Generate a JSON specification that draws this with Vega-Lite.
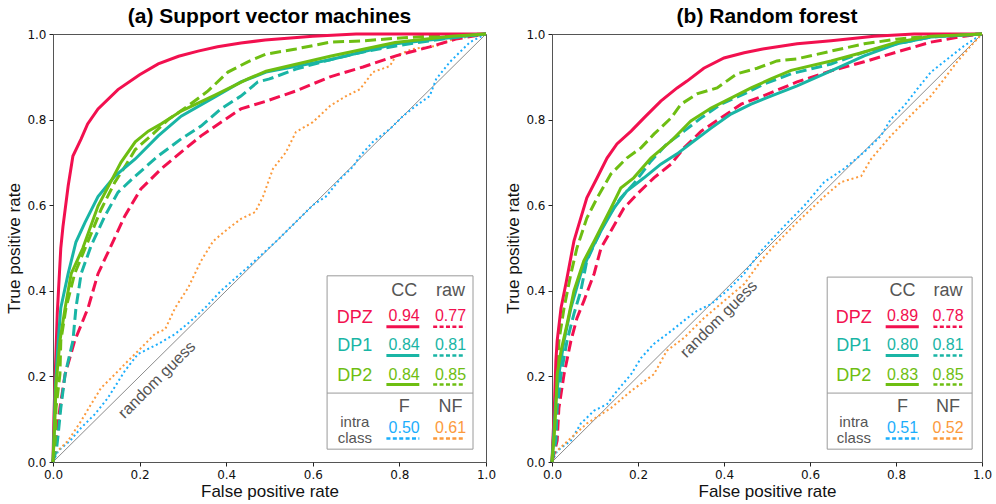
{
"$schema": "https://vega.github.io/schema/vega-lite/v6.json",
"background": "white",
"spacing": 7,
"config": {
 "font": "Liberation Sans",
 "view": {"stroke": "#555", "strokeWidth": 1},
 "axis": {"domain": false, "grid": false, "tickSize": 4, "tickColor": "#222", "labelFont": "DejaVu Sans", "labelFontSize": 12, "labelColor": "#111", "labelFlush": false, "labelOverlap": false, "labelPadding": 3, "titleFont": "Liberation Sans", "titleFontSize": 17, "titleFontWeight": "normal", "titleColor": "#111", "titlePadding": 3},
 "title": {"font": "Liberation Sans", "fontSize": 21, "fontWeight": "bold", "color": "#000", "offset": 1}
},
"datasets": {
 "curves": [
  {"p":"a","s":"DPZ","k":"CC","x":0,"y":0},{"p":"a","s":"DPZ","k":"CC","x":0.002,"y":0.1},{"p":"a","s":"DPZ","k":"CC","x":0.005,"y":0.2},{"p":"a","s":"DPZ","k":"CC","x":0.01,"y":0.35},{"p":"a","s":"DPZ","k":"CC","x":0.018,"y":0.5},{"p":"a","s":"DPZ","k":"CC","x":0.023,"y":0.55},{"p":"a","s":"DPZ","k":"CC","x":0.035,"y":0.645},{"p":"a","s":"DPZ","k":"CC","x":0.046,"y":0.715},{"p":"a","s":"DPZ","k":"CC","x":0.065,"y":0.755},{"p":"a","s":"DPZ","k":"CC","x":0.08,"y":0.79},{"p":"a","s":"DPZ","k":"CC","x":0.104,"y":0.825},{"p":"a","s":"DPZ","k":"CC","x":0.15,"y":0.87},{"p":"a","s":"DPZ","k":"CC","x":0.2,"y":0.905},{"p":"a","s":"DPZ","k":"CC","x":0.243,"y":0.93},{"p":"a","s":"DPZ","k":"CC","x":0.29,"y":0.948},{"p":"a","s":"DPZ","k":"CC","x":0.335,"y":0.96},{"p":"a","s":"DPZ","k":"CC","x":0.38,"y":0.97},{"p":"a","s":"DPZ","k":"CC","x":0.434,"y":0.979},{"p":"a","s":"DPZ","k":"CC","x":0.49,"y":0.986},{"p":"a","s":"DPZ","k":"CC","x":0.6,"y":0.995},{"p":"a","s":"DPZ","k":"CC","x":0.7,"y":1},{"p":"a","s":"DPZ","k":"CC","x":1,"y":1},
  {"p":"a","s":"DP1","k":"CC","x":0,"y":0},{"p":"a","s":"DP1","k":"CC","x":0.003,"y":0.08},{"p":"a","s":"DP1","k":"CC","x":0.005,"y":0.166},{"p":"a","s":"DP1","k":"CC","x":0.012,"y":0.283},{"p":"a","s":"DP1","k":"CC","x":0.018,"y":0.36},{"p":"a","s":"DP1","k":"CC","x":0.035,"y":0.44},{"p":"a","s":"DP1","k":"CC","x":0.053,"y":0.514},{"p":"a","s":"DP1","k":"CC","x":0.074,"y":0.56},{"p":"a","s":"DP1","k":"CC","x":0.104,"y":0.62},{"p":"a","s":"DP1","k":"CC","x":0.143,"y":0.668},{"p":"a","s":"DP1","k":"CC","x":0.19,"y":0.708},{"p":"a","s":"DP1","k":"CC","x":0.243,"y":0.762},{"p":"a","s":"DP1","k":"CC","x":0.296,"y":0.808},{"p":"a","s":"DP1","k":"CC","x":0.374,"y":0.853},{"p":"a","s":"DP1","k":"CC","x":0.434,"y":0.888},{"p":"a","s":"DP1","k":"CC","x":0.492,"y":0.911},{"p":"a","s":"DP1","k":"CC","x":0.64,"y":0.94},{"p":"a","s":"DP1","k":"CC","x":0.792,"y":0.977},{"p":"a","s":"DP1","k":"CC","x":0.947,"y":0.995},{"p":"a","s":"DP1","k":"CC","x":1,"y":1},
  {"p":"a","s":"DP2","k":"CC","x":0,"y":0},{"p":"a","s":"DP2","k":"CC","x":0.004,"y":0.09},{"p":"a","s":"DP2","k":"CC","x":0.007,"y":0.18},{"p":"a","s":"DP2","k":"CC","x":0.016,"y":0.283},{"p":"a","s":"DP2","k":"CC","x":0.028,"y":0.36},{"p":"a","s":"DP2","k":"CC","x":0.042,"y":0.44},{"p":"a","s":"DP2","k":"CC","x":0.069,"y":0.5},{"p":"a","s":"DP2","k":"CC","x":0.104,"y":0.598},{"p":"a","s":"DP2","k":"CC","x":0.157,"y":0.7},{"p":"a","s":"DP2","k":"CC","x":0.19,"y":0.748},{"p":"a","s":"DP2","k":"CC","x":0.22,"y":0.773},{"p":"a","s":"DP2","k":"CC","x":0.25,"y":0.79},{"p":"a","s":"DP2","k":"CC","x":0.296,"y":0.82},{"p":"a","s":"DP2","k":"CC","x":0.374,"y":0.857},{"p":"a","s":"DP2","k":"CC","x":0.45,"y":0.895},{"p":"a","s":"DP2","k":"CC","x":0.492,"y":0.913},{"p":"a","s":"DP2","k":"CC","x":0.64,"y":0.948},{"p":"a","s":"DP2","k":"CC","x":0.79,"y":0.98},{"p":"a","s":"DP2","k":"CC","x":0.92,"y":0.995},{"p":"a","s":"DP2","k":"CC","x":1,"y":1},
  {"p":"a","s":"DPZ","k":"raw","x":0,"y":0},{"p":"a","s":"DPZ","k":"raw","x":0.007,"y":0.05},{"p":"a","s":"DPZ","k":"raw","x":0.016,"y":0.126},{"p":"a","s":"DPZ","k":"raw","x":0.028,"y":0.205},{"p":"a","s":"DPZ","k":"raw","x":0.05,"y":0.283},{"p":"a","s":"DPZ","k":"raw","x":0.081,"y":0.36},{"p":"a","s":"DPZ","k":"raw","x":0.104,"y":0.44},{"p":"a","s":"DPZ","k":"raw","x":0.134,"y":0.505},{"p":"a","s":"DPZ","k":"raw","x":0.166,"y":0.575},{"p":"a","s":"DPZ","k":"raw","x":0.203,"y":0.638},{"p":"a","s":"DPZ","k":"raw","x":0.25,"y":0.685},{"p":"a","s":"DPZ","k":"raw","x":0.296,"y":0.724},{"p":"a","s":"DPZ","k":"raw","x":0.342,"y":0.762},{"p":"a","s":"DPZ","k":"raw","x":0.388,"y":0.794},{"p":"a","s":"DPZ","k":"raw","x":0.434,"y":0.825},{"p":"a","s":"DPZ","k":"raw","x":0.492,"y":0.843},{"p":"a","s":"DPZ","k":"raw","x":0.561,"y":0.867},{"p":"a","s":"DPZ","k":"raw","x":0.64,"y":0.9},{"p":"a","s":"DPZ","k":"raw","x":0.716,"y":0.923},{"p":"a","s":"DPZ","k":"raw","x":0.792,"y":0.949},{"p":"a","s":"DPZ","k":"raw","x":0.87,"y":0.97},{"p":"a","s":"DPZ","k":"raw","x":0.93,"y":0.988},{"p":"a","s":"DPZ","k":"raw","x":1,"y":1},
  {"p":"a","s":"DP1","k":"raw","x":0,"y":0},{"p":"a","s":"DP1","k":"raw","x":0.008,"y":0.03},{"p":"a","s":"DP1","k":"raw","x":0.012,"y":0.065},{"p":"a","s":"DP1","k":"raw","x":0.018,"y":0.126},{"p":"a","s":"DP1","k":"raw","x":0.028,"y":0.205},{"p":"a","s":"DP1","k":"raw","x":0.046,"y":0.283},{"p":"a","s":"DP1","k":"raw","x":0.053,"y":0.36},{"p":"a","s":"DP1","k":"raw","x":0.065,"y":0.44},{"p":"a","s":"DP1","k":"raw","x":0.088,"y":0.505},{"p":"a","s":"DP1","k":"raw","x":0.12,"y":0.575},{"p":"a","s":"DP1","k":"raw","x":0.15,"y":0.63},{"p":"a","s":"DP1","k":"raw","x":0.19,"y":0.668},{"p":"a","s":"DP1","k":"raw","x":0.243,"y":0.715},{"p":"a","s":"DP1","k":"raw","x":0.296,"y":0.755},{"p":"a","s":"DP1","k":"raw","x":0.342,"y":0.785},{"p":"a","s":"DP1","k":"raw","x":0.388,"y":0.825},{"p":"a","s":"DP1","k":"raw","x":0.434,"y":0.855},{"p":"a","s":"DP1","k":"raw","x":0.473,"y":0.888},{"p":"a","s":"DP1","k":"raw","x":0.5,"y":0.895},{"p":"a","s":"DP1","k":"raw","x":0.561,"y":0.918},{"p":"a","s":"DP1","k":"raw","x":0.64,"y":0.94},{"p":"a","s":"DP1","k":"raw","x":0.716,"y":0.958},{"p":"a","s":"DP1","k":"raw","x":0.792,"y":0.972},{"p":"a","s":"DP1","k":"raw","x":0.87,"y":0.984},{"p":"a","s":"DP1","k":"raw","x":0.95,"y":0.995},{"p":"a","s":"DP1","k":"raw","x":1,"y":1},
  {"p":"a","s":"DP2","k":"raw","x":0,"y":0},{"p":"a","s":"DP2","k":"raw","x":0.005,"y":0.05},{"p":"a","s":"DP2","k":"raw","x":0.007,"y":0.126},{"p":"a","s":"DP2","k":"raw","x":0.016,"y":0.205},{"p":"a","s":"DP2","k":"raw","x":0.018,"y":0.283},{"p":"a","s":"DP2","k":"raw","x":0.03,"y":0.36},{"p":"a","s":"DP2","k":"raw","x":0.05,"y":0.44},{"p":"a","s":"DP2","k":"raw","x":0.081,"y":0.516},{"p":"a","s":"DP2","k":"raw","x":0.111,"y":0.59},{"p":"a","s":"DP2","k":"raw","x":0.143,"y":0.654},{"p":"a","s":"DP2","k":"raw","x":0.166,"y":0.69},{"p":"a","s":"DP2","k":"raw","x":0.19,"y":0.73},{"p":"a","s":"DP2","k":"raw","x":0.226,"y":0.762},{"p":"a","s":"DP2","k":"raw","x":0.266,"y":0.8},{"p":"a","s":"DP2","k":"raw","x":0.312,"y":0.832},{"p":"a","s":"DP2","k":"raw","x":0.358,"y":0.867},{"p":"a","s":"DP2","k":"raw","x":0.404,"y":0.911},{"p":"a","s":"DP2","k":"raw","x":0.45,"y":0.935},{"p":"a","s":"DP2","k":"raw","x":0.492,"y":0.953},{"p":"a","s":"DP2","k":"raw","x":0.561,"y":0.965},{"p":"a","s":"DP2","k":"raw","x":0.64,"y":0.981},{"p":"a","s":"DP2","k":"raw","x":0.716,"y":0.984},{"p":"a","s":"DP2","k":"raw","x":0.792,"y":0.99},{"p":"a","s":"DP2","k":"raw","x":0.87,"y":0.995},{"p":"a","s":"DP2","k":"raw","x":1,"y":1},
  {"p":"a","s":"F","k":"intra","x":0,"y":0},{"p":"a","s":"F","k":"intra","x":0.012,"y":0.026},{"p":"a","s":"F","k":"intra","x":0.04,"y":0.05},{"p":"a","s":"F","k":"intra","x":0.065,"y":0.08},{"p":"a","s":"F","k":"intra","x":0.097,"y":0.112},{"p":"a","s":"F","k":"intra","x":0.127,"y":0.15},{"p":"a","s":"F","k":"intra","x":0.166,"y":0.213},{"p":"a","s":"F","k":"intra","x":0.196,"y":0.252},{"p":"a","s":"F","k":"intra","x":0.243,"y":0.276},{"p":"a","s":"F","k":"intra","x":0.282,"y":0.299},{"p":"a","s":"F","k":"intra","x":0.319,"y":0.33},{"p":"a","s":"F","k":"intra","x":0.351,"y":0.36},{"p":"a","s":"F","k":"intra","x":0.388,"y":0.4},{"p":"a","s":"F","k":"intra","x":0.45,"y":0.455},{"p":"a","s":"F","k":"intra","x":0.52,"y":0.52},{"p":"a","s":"F","k":"intra","x":0.6,"y":0.6},{"p":"a","s":"F","k":"intra","x":0.63,"y":0.62},{"p":"a","s":"F","k":"intra","x":0.663,"y":0.661},{"p":"a","s":"F","k":"intra","x":0.693,"y":0.69},{"p":"a","s":"F","k":"intra","x":0.709,"y":0.715},{"p":"a","s":"F","k":"intra","x":0.739,"y":0.748},{"p":"a","s":"F","k":"intra","x":0.778,"y":0.778},{"p":"a","s":"F","k":"intra","x":0.808,"y":0.808},{"p":"a","s":"F","k":"intra","x":0.838,"y":0.832},{"p":"a","s":"F","k":"intra","x":0.87,"y":0.855},{"p":"a","s":"F","k":"intra","x":0.885,"y":0.895},{"p":"a","s":"F","k":"intra","x":0.917,"y":0.935},{"p":"a","s":"F","k":"intra","x":0.963,"y":0.981},{"p":"a","s":"F","k":"intra","x":1,"y":1},
  {"p":"a","s":"NF","k":"intra","x":0,"y":0},{"p":"a","s":"NF","k":"intra","x":0.005,"y":0.02},{"p":"a","s":"NF","k":"intra","x":0.035,"y":0.05},{"p":"a","s":"NF","k":"intra","x":0.065,"y":0.096},{"p":"a","s":"NF","k":"intra","x":0.088,"y":0.135},{"p":"a","s":"NF","k":"intra","x":0.111,"y":0.173},{"p":"a","s":"NF","k":"intra","x":0.143,"y":0.205},{"p":"a","s":"NF","k":"intra","x":0.173,"y":0.236},{"p":"a","s":"NF","k":"intra","x":0.203,"y":0.266},{"p":"a","s":"NF","k":"intra","x":0.236,"y":0.3},{"p":"a","s":"NF","k":"intra","x":0.259,"y":0.31},{"p":"a","s":"NF","k":"intra","x":0.282,"y":0.36},{"p":"a","s":"NF","k":"intra","x":0.312,"y":0.407},{"p":"a","s":"NF","k":"intra","x":0.342,"y":0.47},{"p":"a","s":"NF","k":"intra","x":0.37,"y":0.516},{"p":"a","s":"NF","k":"intra","x":0.404,"y":0.545},{"p":"a","s":"NF","k":"intra","x":0.434,"y":0.568},{"p":"a","s":"NF","k":"intra","x":0.467,"y":0.584},{"p":"a","s":"NF","k":"intra","x":0.485,"y":0.62},{"p":"a","s":"NF","k":"intra","x":0.508,"y":0.685},{"p":"a","s":"NF","k":"intra","x":0.538,"y":0.724},{"p":"a","s":"NF","k":"intra","x":0.561,"y":0.771},{"p":"a","s":"NF","k":"intra","x":0.6,"y":0.794},{"p":"a","s":"NF","k":"intra","x":0.64,"y":0.832},{"p":"a","s":"NF","k":"intra","x":0.677,"y":0.855},{"p":"a","s":"NF","k":"intra","x":0.709,"y":0.871},{"p":"a","s":"NF","k":"intra","x":0.739,"y":0.911},{"p":"a","s":"NF","k":"intra","x":0.778,"y":0.925},{"p":"a","s":"NF","k":"intra","x":0.792,"y":0.949},{"p":"a","s":"NF","k":"intra","x":0.831,"y":0.965},{"p":"a","s":"NF","k":"intra","x":0.885,"y":0.972},{"p":"a","s":"NF","k":"intra","x":0.924,"y":0.988},{"p":"a","s":"NF","k":"intra","x":1,"y":1},

  {"p":"b","s":"DPZ","k":"CC","x":0,"y":0},{"p":"b","s":"DPZ","k":"CC","x":0.002,"y":0.05},{"p":"b","s":"DPZ","k":"CC","x":0.005,"y":0.112},{"p":"b","s":"DPZ","k":"CC","x":0.009,"y":0.236},{"p":"b","s":"DPZ","k":"CC","x":0.012,"y":0.283},{"p":"b","s":"DPZ","k":"CC","x":0.021,"y":0.36},{"p":"b","s":"DPZ","k":"CC","x":0.033,"y":0.42},{"p":"b","s":"DPZ","k":"CC","x":0.051,"y":0.516},{"p":"b","s":"DPZ","k":"CC","x":0.058,"y":0.54},{"p":"b","s":"DPZ","k":"CC","x":0.081,"y":0.617},{"p":"b","s":"DPZ","k":"CC","x":0.105,"y":0.664},{"p":"b","s":"DPZ","k":"CC","x":0.128,"y":0.71},{"p":"b","s":"DPZ","k":"CC","x":0.151,"y":0.743},{"p":"b","s":"DPZ","k":"CC","x":0.184,"y":0.773},{"p":"b","s":"DPZ","k":"CC","x":0.214,"y":0.804},{"p":"b","s":"DPZ","k":"CC","x":0.253,"y":0.843},{"p":"b","s":"DPZ","k":"CC","x":0.291,"y":0.874},{"p":"b","s":"DPZ","k":"CC","x":0.314,"y":0.89},{"p":"b","s":"DPZ","k":"CC","x":0.353,"y":0.92},{"p":"b","s":"DPZ","k":"CC","x":0.4,"y":0.944},{"p":"b","s":"DPZ","k":"CC","x":0.447,"y":0.956},{"p":"b","s":"DPZ","k":"CC","x":0.49,"y":0.965},{"p":"b","s":"DPZ","k":"CC","x":0.57,"y":0.977},{"p":"b","s":"DPZ","k":"CC","x":0.649,"y":0.984},{"p":"b","s":"DPZ","k":"CC","x":0.749,"y":0.995},{"p":"b","s":"DPZ","k":"CC","x":0.842,"y":1},{"p":"b","s":"DPZ","k":"CC","x":1,"y":1},
  {"p":"b","s":"DP1","k":"CC","x":0,"y":0},{"p":"b","s":"DP1","k":"CC","x":0.005,"y":0.08},{"p":"b","s":"DP1","k":"CC","x":0.009,"y":0.143},{"p":"b","s":"DP1","k":"CC","x":0.016,"y":0.205},{"p":"b","s":"DP1","k":"CC","x":0.028,"y":0.283},{"p":"b","s":"DP1","k":"CC","x":0.044,"y":0.36},{"p":"b","s":"DP1","k":"CC","x":0.067,"y":0.44},{"p":"b","s":"DP1","k":"CC","x":0.09,"y":0.493},{"p":"b","s":"DP1","k":"CC","x":0.114,"y":0.54},{"p":"b","s":"DP1","k":"CC","x":0.144,"y":0.593},{"p":"b","s":"DP1","k":"CC","x":0.174,"y":0.633},{"p":"b","s":"DP1","k":"CC","x":0.214,"y":0.664},{"p":"b","s":"DP1","k":"CC","x":0.253,"y":0.696},{"p":"b","s":"DP1","k":"CC","x":0.291,"y":0.72},{"p":"b","s":"DP1","k":"CC","x":0.33,"y":0.75},{"p":"b","s":"DP1","k":"CC","x":0.37,"y":0.78},{"p":"b","s":"DP1","k":"CC","x":0.416,"y":0.813},{"p":"b","s":"DP1","k":"CC","x":0.463,"y":0.836},{"p":"b","s":"DP1","k":"CC","x":0.509,"y":0.855},{"p":"b","s":"DP1","k":"CC","x":0.57,"y":0.879},{"p":"b","s":"DP1","k":"CC","x":0.649,"y":0.914},{"p":"b","s":"DP1","k":"CC","x":0.726,"y":0.949},{"p":"b","s":"DP1","k":"CC","x":0.802,"y":0.977},{"p":"b","s":"DP1","k":"CC","x":0.881,"y":0.993},{"p":"b","s":"DP1","k":"CC","x":1,"y":1},
  {"p":"b","s":"DP2","k":"CC","x":0,"y":0},{"p":"b","s":"DP2","k":"CC","x":0.005,"y":0.06},{"p":"b","s":"DP2","k":"CC","x":0.009,"y":0.126},{"p":"b","s":"DP2","k":"CC","x":0.012,"y":0.205},{"p":"b","s":"DP2","k":"CC","x":0.021,"y":0.26},{"p":"b","s":"DP2","k":"CC","x":0.035,"y":0.322},{"p":"b","s":"DP2","k":"CC","x":0.051,"y":0.4},{"p":"b","s":"DP2","k":"CC","x":0.074,"y":0.47},{"p":"b","s":"DP2","k":"CC","x":0.098,"y":0.516},{"p":"b","s":"DP2","k":"CC","x":0.137,"y":0.593},{"p":"b","s":"DP2","k":"CC","x":0.16,"y":0.64},{"p":"b","s":"DP2","k":"CC","x":0.19,"y":0.664},{"p":"b","s":"DP2","k":"CC","x":0.23,"y":0.71},{"p":"b","s":"DP2","k":"CC","x":0.277,"y":0.75},{"p":"b","s":"DP2","k":"CC","x":0.323,"y":0.797},{"p":"b","s":"DP2","k":"CC","x":0.37,"y":0.827},{"p":"b","s":"DP2","k":"CC","x":0.416,"y":0.85},{"p":"b","s":"DP2","k":"CC","x":0.463,"y":0.874},{"p":"b","s":"DP2","k":"CC","x":0.509,"y":0.895},{"p":"b","s":"DP2","k":"CC","x":0.556,"y":0.915},{"p":"b","s":"DP2","k":"CC","x":0.649,"y":0.937},{"p":"b","s":"DP2","k":"CC","x":0.726,"y":0.958},{"p":"b","s":"DP2","k":"CC","x":0.802,"y":0.981},{"p":"b","s":"DP2","k":"CC","x":0.881,"y":0.995},{"p":"b","s":"DP2","k":"CC","x":1,"y":1},
  {"p":"b","s":"DPZ","k":"raw","x":0,"y":0},{"p":"b","s":"DPZ","k":"raw","x":0.012,"y":0.05},{"p":"b","s":"DPZ","k":"raw","x":0.016,"y":0.126},{"p":"b","s":"DPZ","k":"raw","x":0.028,"y":0.205},{"p":"b","s":"DPZ","k":"raw","x":0.044,"y":0.283},{"p":"b","s":"DPZ","k":"raw","x":0.058,"y":0.336},{"p":"b","s":"DPZ","k":"raw","x":0.074,"y":0.376},{"p":"b","s":"DPZ","k":"raw","x":0.098,"y":0.44},{"p":"b","s":"DPZ","k":"raw","x":0.114,"y":0.5},{"p":"b","s":"DPZ","k":"raw","x":0.137,"y":0.54},{"p":"b","s":"DPZ","k":"raw","x":0.167,"y":0.593},{"p":"b","s":"DPZ","k":"raw","x":0.198,"y":0.626},{"p":"b","s":"DPZ","k":"raw","x":0.237,"y":0.664},{"p":"b","s":"DPZ","k":"raw","x":0.277,"y":0.696},{"p":"b","s":"DPZ","k":"raw","x":0.307,"y":0.734},{"p":"b","s":"DPZ","k":"raw","x":0.347,"y":0.773},{"p":"b","s":"DPZ","k":"raw","x":0.393,"y":0.804},{"p":"b","s":"DPZ","k":"raw","x":0.44,"y":0.836},{"p":"b","s":"DPZ","k":"raw","x":0.49,"y":0.855},{"p":"b","s":"DPZ","k":"raw","x":0.57,"y":0.888},{"p":"b","s":"DPZ","k":"raw","x":0.649,"y":0.914},{"p":"b","s":"DPZ","k":"raw","x":0.726,"y":0.935},{"p":"b","s":"DPZ","k":"raw","x":0.802,"y":0.958},{"p":"b","s":"DPZ","k":"raw","x":0.881,"y":0.981},{"p":"b","s":"DPZ","k":"raw","x":0.958,"y":0.995},{"p":"b","s":"DPZ","k":"raw","x":1,"y":1},
  {"p":"b","s":"DP1","k":"raw","x":0,"y":0},{"p":"b","s":"DP1","k":"raw","x":0.009,"y":0.05},{"p":"b","s":"DP1","k":"raw","x":0.012,"y":0.126},{"p":"b","s":"DP1","k":"raw","x":0.021,"y":0.205},{"p":"b","s":"DP1","k":"raw","x":0.035,"y":0.283},{"p":"b","s":"DP1","k":"raw","x":0.051,"y":0.346},{"p":"b","s":"DP1","k":"raw","x":0.067,"y":0.4},{"p":"b","s":"DP1","k":"raw","x":0.081,"y":0.47},{"p":"b","s":"DP1","k":"raw","x":0.102,"y":0.516},{"p":"b","s":"DP1","k":"raw","x":0.128,"y":0.57},{"p":"b","s":"DP1","k":"raw","x":0.16,"y":0.617},{"p":"b","s":"DP1","k":"raw","x":0.19,"y":0.65},{"p":"b","s":"DP1","k":"raw","x":0.23,"y":0.703},{"p":"b","s":"DP1","k":"raw","x":0.267,"y":0.743},{"p":"b","s":"DP1","k":"raw","x":0.307,"y":0.773},{"p":"b","s":"DP1","k":"raw","x":0.347,"y":0.804},{"p":"b","s":"DP1","k":"raw","x":0.393,"y":0.836},{"p":"b","s":"DP1","k":"raw","x":0.447,"y":0.86},{"p":"b","s":"DP1","k":"raw","x":0.493,"y":0.883},{"p":"b","s":"DP1","k":"raw","x":0.556,"y":0.907},{"p":"b","s":"DP1","k":"raw","x":0.649,"y":0.93},{"p":"b","s":"DP1","k":"raw","x":0.726,"y":0.958},{"p":"b","s":"DP1","k":"raw","x":0.802,"y":0.977},{"p":"b","s":"DP1","k":"raw","x":0.881,"y":0.993},{"p":"b","s":"DP1","k":"raw","x":1,"y":1},
  {"p":"b","s":"DP2","k":"raw","x":0,"y":0},{"p":"b","s":"DP2","k":"raw","x":0.005,"y":0.09},{"p":"b","s":"DP2","k":"raw","x":0.012,"y":0.205},{"p":"b","s":"DP2","k":"raw","x":0.016,"y":0.283},{"p":"b","s":"DP2","k":"raw","x":0.028,"y":0.36},{"p":"b","s":"DP2","k":"raw","x":0.044,"y":0.44},{"p":"b","s":"DP2","k":"raw","x":0.058,"y":0.5},{"p":"b","s":"DP2","k":"raw","x":0.081,"y":0.57},{"p":"b","s":"DP2","k":"raw","x":0.105,"y":0.617},{"p":"b","s":"DP2","k":"raw","x":0.137,"y":0.673},{"p":"b","s":"DP2","k":"raw","x":0.174,"y":0.71},{"p":"b","s":"DP2","k":"raw","x":0.207,"y":0.734},{"p":"b","s":"DP2","k":"raw","x":0.237,"y":0.766},{"p":"b","s":"DP2","k":"raw","x":0.277,"y":0.804},{"p":"b","s":"DP2","k":"raw","x":0.3,"y":0.836},{"p":"b","s":"DP2","k":"raw","x":0.337,"y":0.86},{"p":"b","s":"DP2","k":"raw","x":0.384,"y":0.874},{"p":"b","s":"DP2","k":"raw","x":0.43,"y":0.907},{"p":"b","s":"DP2","k":"raw","x":0.477,"y":0.92},{"p":"b","s":"DP2","k":"raw","x":0.523,"y":0.937},{"p":"b","s":"DP2","k":"raw","x":0.57,"y":0.942},{"p":"b","s":"DP2","k":"raw","x":0.649,"y":0.96},{"p":"b","s":"DP2","k":"raw","x":0.726,"y":0.977},{"p":"b","s":"DP2","k":"raw","x":0.802,"y":0.988},{"p":"b","s":"DP2","k":"raw","x":0.881,"y":0.995},{"p":"b","s":"DP2","k":"raw","x":1,"y":1},
  {"p":"b","s":"F","k":"intra","x":0,"y":0},{"p":"b","s":"F","k":"intra","x":0.012,"y":0.026},{"p":"b","s":"F","k":"intra","x":0.044,"y":0.05},{"p":"b","s":"F","k":"intra","x":0.067,"y":0.09},{"p":"b","s":"F","k":"intra","x":0.098,"y":0.12},{"p":"b","s":"F","k":"intra","x":0.128,"y":0.135},{"p":"b","s":"F","k":"intra","x":0.151,"y":0.166},{"p":"b","s":"F","k":"intra","x":0.184,"y":0.205},{"p":"b","s":"F","k":"intra","x":0.207,"y":0.243},{"p":"b","s":"F","k":"intra","x":0.237,"y":0.276},{"p":"b","s":"F","k":"intra","x":0.277,"y":0.306},{"p":"b","s":"F","k":"intra","x":0.314,"y":0.336},{"p":"b","s":"F","k":"intra","x":0.337,"y":0.353},{"p":"b","s":"F","k":"intra","x":0.37,"y":0.369},{"p":"b","s":"F","k":"intra","x":0.407,"y":0.4},{"p":"b","s":"F","k":"intra","x":0.447,"y":0.44},{"p":"b","s":"F","k":"intra","x":0.486,"y":0.493},{"p":"b","s":"F","k":"intra","x":0.54,"y":0.551},{"p":"b","s":"F","k":"intra","x":0.586,"y":0.598},{"p":"b","s":"F","k":"intra","x":0.633,"y":0.654},{"p":"b","s":"F","k":"intra","x":0.679,"y":0.685},{"p":"b","s":"F","k":"intra","x":0.726,"y":0.724},{"p":"b","s":"F","k":"intra","x":0.765,"y":0.762},{"p":"b","s":"F","k":"intra","x":0.788,"y":0.801},{"p":"b","s":"F","k":"intra","x":0.819,"y":0.832},{"p":"b","s":"F","k":"intra","x":0.849,"y":0.871},{"p":"b","s":"F","k":"intra","x":0.881,"y":0.911},{"p":"b","s":"F","k":"intra","x":0.919,"y":0.941},{"p":"b","s":"F","k":"intra","x":0.958,"y":0.972},{"p":"b","s":"F","k":"intra","x":1,"y":1},
  {"p":"b","s":"NF","k":"intra","x":0,"y":0},{"p":"b","s":"NF","k":"intra","x":0.005,"y":0.02},{"p":"b","s":"NF","k":"intra","x":0.044,"y":0.056},{"p":"b","s":"NF","k":"intra","x":0.081,"y":0.09},{"p":"b","s":"NF","k":"intra","x":0.137,"y":0.126},{"p":"b","s":"NF","k":"intra","x":0.184,"y":0.166},{"p":"b","s":"NF","k":"intra","x":0.237,"y":0.205},{"p":"b","s":"NF","k":"intra","x":0.267,"y":0.26},{"p":"b","s":"NF","k":"intra","x":0.307,"y":0.29},{"p":"b","s":"NF","k":"intra","x":0.353,"y":0.336},{"p":"b","s":"NF","k":"intra","x":0.4,"y":0.376},{"p":"b","s":"NF","k":"intra","x":0.447,"y":0.416},{"p":"b","s":"NF","k":"intra","x":0.486,"y":0.47},{"p":"b","s":"NF","k":"intra","x":0.516,"y":0.505},{"p":"b","s":"NF","k":"intra","x":0.57,"y":0.56},{"p":"b","s":"NF","k":"intra","x":0.633,"y":0.62},{"p":"b","s":"NF","k":"intra","x":0.672,"y":0.654},{"p":"b","s":"NF","k":"intra","x":0.719,"y":0.668},{"p":"b","s":"NF","k":"intra","x":0.742,"y":0.708},{"p":"b","s":"NF","k":"intra","x":0.788,"y":0.762},{"p":"b","s":"NF","k":"intra","x":0.819,"y":0.794},{"p":"b","s":"NF","k":"intra","x":0.849,"y":0.825},{"p":"b","s":"NF","k":"intra","x":0.881,"y":0.855},{"p":"b","s":"NF","k":"intra","x":0.912,"y":0.895},{"p":"b","s":"NF","k":"intra","x":0.942,"y":0.935},{"p":"b","s":"NF","k":"intra","x":0.974,"y":0.972},{"p":"b","s":"NF","k":"intra","x":1,"y":1}
 ],
 "leg": [
  {"p":"a","r":"hdr","t":"CC","s":"hdr","x":0.811,"y":0.4},{"p":"a","r":"hdr","t":"raw","s":"hdr","x":0.918,"y":0.4},{"p":"a","r":"hdr","t":"F","s":"hdr","x":0.811,"y":0.129},{"p":"a","r":"hdr","t":"NF","s":"hdr","x":0.918,"y":0.129},
  {"p":"a","r":"lab","t":"DPZ","s":"DPZ","x":0.697,"y":0.337},{"p":"a","r":"lab","t":"DP1","s":"DP1","x":0.697,"y":0.271},{"p":"a","r":"lab","t":"DP2","s":"DP2","x":0.697,"y":0.201},
  {"p":"a","r":"sm","t":"intra","s":"hdr","x":0.697,"y":0.094},{"p":"a","r":"sm","t":"class","s":"hdr","x":0.697,"y":0.055},
  {"p":"a","r":"val","t":"0.94","s":"DPZ","x":0.811,"y":0.341},{"p":"a","r":"val","t":"0.77","s":"DPZ","x":0.918,"y":0.341},{"p":"a","r":"val","t":"0.84","s":"DP1","x":0.811,"y":0.273},{"p":"a","r":"val","t":"0.81","s":"DP1","x":0.918,"y":0.273},{"p":"a","r":"val","t":"0.84","s":"DP2","x":0.811,"y":0.203},{"p":"a","r":"val","t":"0.85","s":"DP2","x":0.918,"y":0.203},{"p":"a","r":"val","t":"0.50","s":"F","x":0.811,"y":0.08},{"p":"a","r":"val","t":"0.61","s":"NF","x":0.918,"y":0.08},
  {"p":"b","r":"hdr","t":"CC","s":"hdr","x":0.815,"y":0.4},{"p":"b","r":"hdr","t":"raw","s":"hdr","x":0.921,"y":0.4},{"p":"b","r":"hdr","t":"F","s":"hdr","x":0.815,"y":0.129},{"p":"b","r":"hdr","t":"NF","s":"hdr","x":0.921,"y":0.129},
  {"p":"b","r":"lab","t":"DPZ","s":"DPZ","x":0.702,"y":0.337},{"p":"b","r":"lab","t":"DP1","s":"DP1","x":0.702,"y":0.271},{"p":"b","r":"lab","t":"DP2","s":"DP2","x":0.702,"y":0.201},
  {"p":"b","r":"sm","t":"intra","s":"hdr","x":0.702,"y":0.094},{"p":"b","r":"sm","t":"class","s":"hdr","x":0.702,"y":0.055},
  {"p":"b","r":"val","t":"0.89","s":"DPZ","x":0.815,"y":0.341},{"p":"b","r":"val","t":"0.78","s":"DPZ","x":0.921,"y":0.341},{"p":"b","r":"val","t":"0.80","s":"DP1","x":0.815,"y":0.273},{"p":"b","r":"val","t":"0.81","s":"DP1","x":0.921,"y":0.273},{"p":"b","r":"val","t":"0.83","s":"DP2","x":0.815,"y":0.203},{"p":"b","r":"val","t":"0.85","s":"DP2","x":0.921,"y":0.203},{"p":"b","r":"val","t":"0.51","s":"F","x":0.815,"y":0.08},{"p":"b","r":"val","t":"0.52","s":"NF","x":0.921,"y":0.08}
 ],
 "ul": [
  {"p":"a","s":"DPZ","k":"CC","x":0.77,"x2":0.846,"y":0.316},{"p":"a","s":"DP1","k":"CC","x":0.77,"x2":0.846,"y":0.249},{"p":"a","s":"DP2","k":"CC","x":0.77,"x2":0.846,"y":0.181},
  {"p":"a","s":"DPZ","k":"raw","x":0.878,"x2":0.952,"y":0.316},{"p":"a","s":"DP1","k":"raw","x":0.878,"x2":0.952,"y":0.249},{"p":"a","s":"DP2","k":"raw","x":0.878,"x2":0.952,"y":0.181},
  {"p":"a","s":"F","k":"raw","x":0.77,"x2":0.846,"y":0.055},{"p":"a","s":"NF","k":"raw","x":0.878,"x2":0.952,"y":0.055},
  {"p":"b","s":"DPZ","k":"CC","x":0.776,"x2":0.853,"y":0.316},{"p":"b","s":"DP1","k":"CC","x":0.776,"x2":0.853,"y":0.249},{"p":"b","s":"DP2","k":"CC","x":0.776,"x2":0.853,"y":0.181},
  {"p":"b","s":"DPZ","k":"raw","x":0.887,"x2":0.954,"y":0.316},{"p":"b","s":"DP1","k":"raw","x":0.887,"x2":0.954,"y":0.249},{"p":"b","s":"DP2","k":"raw","x":0.887,"x2":0.954,"y":0.181},
  {"p":"b","s":"F","k":"raw","x":0.776,"x2":0.853,"y":0.055},{"p":"b","s":"NF","k":"raw","x":0.887,"x2":0.954,"y":0.055}
 ]
},
"hconcat": [
 {
  "title": "(a) Support vector machines",
  "width": 433, "height": 428,
  "layer": [
   {"data": {"values": [{}]}, "mark": {"type": "rule", "color": "#8c8c8c", "strokeWidth": 1},
    "encoding": {"x": {"datum": 0, "type": "quantitative", "title": "False positive rate", "scale": {"domain": [0, 1], "nice": false, "zero": false}, "axis": {"values": [0, 0.2, 0.4, 0.6, 0.8, 1], "format": ".1f"}},
     "y": {"datum": 0, "type": "quantitative", "title": "True positive rate", "scale": {"domain": [0, 1], "nice": false, "zero": false}, "axis": {"values": [0, 0.2, 0.4, 0.6, 0.8, 1], "format": ".1f"}},
     "x2": {"datum": 1}, "y2": {"datum": 1}}},
   {"data": {"name": "curves"}, "transform": [{"filter": "datum.p == 'a' && datum.k == 'intra'"}],
    "mark": {"type": "line", "strokeWidth": 2, "strokeDash": [2, 2.8]},
    "encoding": {"x": {"field": "x", "type": "quantitative", "title": "False positive rate"}, "y": {"field": "y", "type": "quantitative", "title": "True positive rate"},
     "color": {"field": "s", "type": "nominal", "legend": null, "scale": {"domain": ["DPZ", "DP1", "DP2", "F", "NF", "hdr"], "range": ["#f2104f", "#19b5a5", "#6ebe12", "#1caefc", "#fc9a3c", "#555555"]}}}},
   {"data": {"name": "curves"}, "transform": [{"filter": "datum.p == 'a' && datum.k == 'raw'"}],
    "mark": {"type": "line", "strokeWidth": 3, "strokeDash": [11, 5]},
    "encoding": {"x": {"field": "x", "type": "quantitative", "title": "False positive rate"}, "y": {"field": "y", "type": "quantitative", "title": "True positive rate"},
     "color": {"field": "s", "type": "nominal", "legend": null}}},
   {"data": {"name": "curves"}, "transform": [{"filter": "datum.p == 'a' && datum.k == 'CC'"}],
    "mark": {"type": "line", "strokeWidth": 3},
    "encoding": {"x": {"field": "x", "type": "quantitative", "title": "False positive rate"}, "y": {"field": "y", "type": "quantitative", "title": "True positive rate"},
     "color": {"field": "s", "type": "nominal", "legend": null}}},
   {"data": {"values": [{}]}, "mark": {"type": "text", "text": "random guess", "angle": -45, "fontSize": 16, "font": "Liberation Sans", "color": "#555555"},
    "encoding": {"x": {"datum": 0.24}, "y": {"datum": 0.192}}},
   {"data": {"values": [{}]}, "mark": {"type": "rect", "fill": "white", "stroke": "#9a9a9a", "strokeWidth": 1},
    "encoding": {"x": {"datum": 0.633}, "x2": {"datum": 0.97}, "y": {"datum": 0.03}, "y2": {"datum": 0.435}}},
   {"data": {"values": [{}]}, "mark": {"type": "rule", "color": "#9a9a9a", "strokeWidth": 1},
    "encoding": {"x": {"datum": 0.633}, "x2": {"datum": 0.97}, "y": {"datum": 0.161}}},
   {"data": {"name": "leg"}, "transform": [{"filter": "datum.p == 'a' && (datum.r == 'hdr' || datum.r == 'lab')"}],
    "mark": {"type": "text", "fontSize": 18, "font": "Liberation Sans", "baseline": "middle"},
    "encoding": {"x": {"field": "x", "type": "quantitative"}, "y": {"field": "y", "type": "quantitative"}, "text": {"field": "t"}, "color": {"field": "s", "type": "nominal", "legend": null}}},
   {"data": {"name": "leg"}, "transform": [{"filter": "datum.p == 'a' && datum.r == 'val'"}],
    "mark": {"type": "text", "fontSize": 16, "font": "Liberation Sans", "baseline": "middle"},
    "encoding": {"x": {"field": "x", "type": "quantitative"}, "y": {"field": "y", "type": "quantitative"}, "text": {"field": "t"}, "color": {"field": "s", "type": "nominal", "legend": null}}},
   {"data": {"name": "leg"}, "transform": [{"filter": "datum.p == 'a' && datum.r == 'sm'"}],
    "mark": {"type": "text", "fontSize": 15, "font": "Liberation Sans", "baseline": "middle"},
    "encoding": {"x": {"field": "x", "type": "quantitative"}, "y": {"field": "y", "type": "quantitative"}, "text": {"field": "t"}, "color": {"field": "s", "type": "nominal", "legend": null}}},
   {"data": {"name": "ul"}, "transform": [{"filter": "datum.p == 'a' && datum.k == 'CC'"}],
    "mark": {"type": "rule", "strokeWidth": 3},
    "encoding": {"x": {"field": "x", "type": "quantitative"}, "x2": {"field": "x2"}, "y": {"field": "y", "type": "quantitative"}, "color": {"field": "s", "type": "nominal", "legend": null}}},
   {"data": {"name": "ul"}, "transform": [{"filter": "datum.p == 'a' && datum.k == 'raw'"}],
    "mark": {"type": "rule", "strokeWidth": 2.5, "strokeDash": [4, 2.4]},
    "encoding": {"x": {"field": "x", "type": "quantitative"}, "x2": {"field": "x2"}, "y": {"field": "y", "type": "quantitative"}, "color": {"field": "s", "type": "nominal", "legend": null}}}
  ]
 },
 {
  "title": "(b) Random forest",
  "width": 430, "height": 428,
  "layer": [
   {"data": {"values": [{}]}, "mark": {"type": "rule", "color": "#8c8c8c", "strokeWidth": 1},
    "encoding": {"x": {"datum": 0, "type": "quantitative", "title": "False positive rate", "scale": {"domain": [0, 1], "nice": false, "zero": false}, "axis": {"values": [0, 0.2, 0.4, 0.6, 0.8, 1], "format": ".1f"}},
     "y": {"datum": 0, "type": "quantitative", "title": "True positive rate", "scale": {"domain": [0, 1], "nice": false, "zero": false}, "axis": {"values": [0, 0.2, 0.4, 0.6, 0.8, 1], "format": ".1f"}},
     "x2": {"datum": 1}, "y2": {"datum": 1}}},
   {"data": {"name": "curves"}, "transform": [{"filter": "datum.p == 'b' && datum.k == 'intra'"}],
    "mark": {"type": "line", "strokeWidth": 2, "strokeDash": [2, 2.8]},
    "encoding": {"x": {"field": "x", "type": "quantitative", "title": "False positive rate"}, "y": {"field": "y", "type": "quantitative", "title": "True positive rate"},
     "color": {"field": "s", "type": "nominal", "legend": null, "scale": {"domain": ["DPZ", "DP1", "DP2", "F", "NF", "hdr"], "range": ["#f2104f", "#19b5a5", "#6ebe12", "#1caefc", "#fc9a3c", "#555555"]}}}},
   {"data": {"name": "curves"}, "transform": [{"filter": "datum.p == 'b' && datum.k == 'raw'"}],
    "mark": {"type": "line", "strokeWidth": 3, "strokeDash": [11, 5]},
    "encoding": {"x": {"field": "x", "type": "quantitative", "title": "False positive rate"}, "y": {"field": "y", "type": "quantitative", "title": "True positive rate"},
     "color": {"field": "s", "type": "nominal", "legend": null}}},
   {"data": {"name": "curves"}, "transform": [{"filter": "datum.p == 'b' && datum.k == 'CC'"}],
    "mark": {"type": "line", "strokeWidth": 3},
    "encoding": {"x": {"field": "x", "type": "quantitative", "title": "False positive rate"}, "y": {"field": "y", "type": "quantitative", "title": "True positive rate"},
     "color": {"field": "s", "type": "nominal", "legend": null}}},
   {"data": {"values": [{}]}, "mark": {"type": "text", "text": "random guess", "angle": -45, "fontSize": 16, "font": "Liberation Sans", "color": "#555555"},
    "encoding": {"x": {"datum": 0.388}, "y": {"datum": 0.334}}},
   {"data": {"values": [{}]}, "mark": {"type": "rect", "fill": "white", "stroke": "#9a9a9a", "strokeWidth": 1},
    "encoding": {"x": {"datum": 0.64}, "x2": {"datum": 0.977}, "y": {"datum": 0.03}, "y2": {"datum": 0.432}}},
   {"data": {"values": [{}]}, "mark": {"type": "rule", "color": "#9a9a9a", "strokeWidth": 1},
    "encoding": {"x": {"datum": 0.64}, "x2": {"datum": 0.977}, "y": {"datum": 0.161}}},
   {"data": {"name": "leg"}, "transform": [{"filter": "datum.p == 'b' && (datum.r == 'hdr' || datum.r == 'lab')"}],
    "mark": {"type": "text", "fontSize": 18, "font": "Liberation Sans", "baseline": "middle"},
    "encoding": {"x": {"field": "x", "type": "quantitative"}, "y": {"field": "y", "type": "quantitative"}, "text": {"field": "t"}, "color": {"field": "s", "type": "nominal", "legend": null}}},
   {"data": {"name": "leg"}, "transform": [{"filter": "datum.p == 'b' && datum.r == 'val'"}],
    "mark": {"type": "text", "fontSize": 16, "font": "Liberation Sans", "baseline": "middle"},
    "encoding": {"x": {"field": "x", "type": "quantitative"}, "y": {"field": "y", "type": "quantitative"}, "text": {"field": "t"}, "color": {"field": "s", "type": "nominal", "legend": null}}},
   {"data": {"name": "leg"}, "transform": [{"filter": "datum.p == 'b' && datum.r == 'sm'"}],
    "mark": {"type": "text", "fontSize": 15, "font": "Liberation Sans", "baseline": "middle"},
    "encoding": {"x": {"field": "x", "type": "quantitative"}, "y": {"field": "y", "type": "quantitative"}, "text": {"field": "t"}, "color": {"field": "s", "type": "nominal", "legend": null}}},
   {"data": {"name": "ul"}, "transform": [{"filter": "datum.p == 'b' && datum.k == 'CC'"}],
    "mark": {"type": "rule", "strokeWidth": 3},
    "encoding": {"x": {"field": "x", "type": "quantitative"}, "x2": {"field": "x2"}, "y": {"field": "y", "type": "quantitative"}, "color": {"field": "s", "type": "nominal", "legend": null}}},
   {"data": {"name": "ul"}, "transform": [{"filter": "datum.p == 'b' && datum.k == 'raw'"}],
    "mark": {"type": "rule", "strokeWidth": 2.5, "strokeDash": [4, 2.4]},
    "encoding": {"x": {"field": "x", "type": "quantitative"}, "x2": {"field": "x2"}, "y": {"field": "y", "type": "quantitative"}, "color": {"field": "s", "type": "nominal", "legend": null}}}
  ]
 }
]
}
